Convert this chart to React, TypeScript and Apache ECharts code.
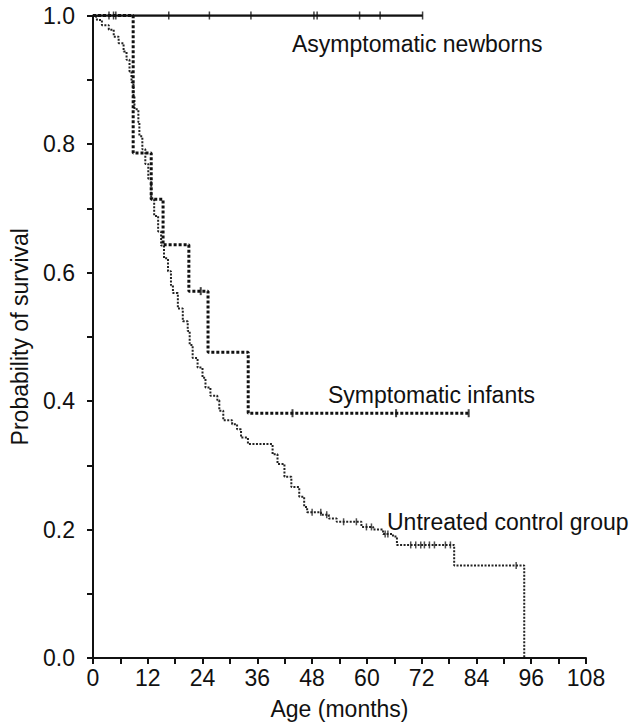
import React, { useEffect, useRef } from "react";
import * as echarts from "echarts";

// ---- data ----
const xTickStep = 12;
const xMax = 108;
const yTickStep = 0.2;

const seriesNames = ["Asymptomatic newborns", "Symptomatic infants", "Untreated control group"];

// Asymptomatic newborns (Kaplan-Meier steps)
const asymTimes = [0, 72.2];
const asymSurv = [1, 1];
const asymCensor = [3.5, 4.5, 5.0, 16.6, 25.5, 34.6, 48.4, 49.1, 58.4, 62.9, 72.2];

// Symptomatic infants
const symTimes = [0, 8.8, 12.75, 15.35, 21.0, 25.2, 34.0, 82.3];
const symSurv = [1, 0.786, 0.714, 0.643, 0.571, 0.476, 0.381, 0.381];
const symCensor = [23.6, 43.7, 66.4, 82.3];

// Untreated control group
const ctlTimes = [
  0, 0.43, 0.86, 1.95, 3.46, 4.54, 5.62, 6.7, 7.35, 8.0, 8.43, 8.86, 9.08, 9.94,
  10.16, 10.81, 11.46, 12.11, 12.75, 13.4, 14.27, 14.92, 15.56, 16.43, 17.08,
  17.51, 18.59, 19.67, 20.75, 21.18, 21.83, 22.91, 23.99, 24.64, 25.72, 27.24,
  27.67, 28.54, 30.48, 31.56, 32.43, 33.94, 39.34, 40.42, 41.94, 43.45, 45.18,
  46.26, 46.91, 49.94, 51.66, 53.39, 58.8, 61.39, 63.55, 65.71, 66.58, 79.12,
  94.47,
];
const ctlSurv = [
  1.0, 0.998, 0.993, 0.985, 0.978, 0.967, 0.957, 0.944, 0.931, 0.913, 0.896,
  0.874, 0.854, 0.834, 0.812, 0.792, 0.769, 0.746, 0.715, 0.688, 0.664, 0.642,
  0.622, 0.602, 0.58, 0.568, 0.544, 0.524, 0.509, 0.487, 0.467, 0.452, 0.436,
  0.421, 0.408, 0.401, 0.385, 0.37, 0.364, 0.356, 0.343, 0.333, 0.317, 0.302,
  0.282, 0.266, 0.251, 0.235, 0.227, 0.223, 0.217, 0.212, 0.204, 0.2, 0.193,
  0.189, 0.176, 0.144, 0.0,
];
const ctlCensor = [
  48.0, 49.9, 51.2, 54.9, 57.7, 59.9, 61.0, 64.0, 64.6, 69.6, 70.7, 71.8, 72.6,
  73.7, 74.8, 77.2, 78.3, 92.7,
];

// ---- helpers ----
const pairs = (t: number[], s: number[]) => t.map((v, i) => [v, s[i]]);
const survAt = (t: number[], s: number[], x: number) => {
  let v = s[0];
  for (let i = 0; i < t.length; i++) if (t[i] <= x) v = s[i];
  return v;
};
const censorPts = (t: number[], s: number[], c: number[]) =>
  c.map((x) => [x, survAt(t, s, x)]);

const FONT = '"Liberation Sans", Arial, sans-serif';
const FS = 23;

export default function App() {
  const ref = useRef<HTMLDivElement>(null);
  useEffect(() => {
    document.body.style.margin = "0";
    const chart = echarts.init(ref.current!, null, { renderer: "svg" });
    const tickMark = "rect";
    const tickStyle = { color: "#111", width: 2 };
    chart.setOption({
      animation: false,
      backgroundColor: "#fff",
      grid: { left: 86, right: 46, top: 15.5, bottom: 63 },
      xAxis: {
        type: "value",
        min: 0,
        max: xMax,
        interval: xTickStep,
        name: "Age (months)",
        nameLocation: "middle",
        nameGap: 39,
        nameTextStyle: { fontFamily: FONT, fontSize: FS, color: "#111" },
        axisLine: { lineStyle: { color: "#111", width: 2 } },
        axisTick: { show: true, length: 6, lineStyle: tickStyle },
        minorTick: { show: true, splitNumber: 2, length: 6, lineStyle: tickStyle },
        splitLine: { show: false },
        axisLabel: { fontFamily: FONT, fontSize: FS, color: "#111", margin: 8 },
      },
      yAxis: {
        type: "value",
        min: 0,
        max: 1,
        interval: yTickStep,
        name: "Probability of survival",
        nameLocation: "middle",
        nameGap: 62,
        nameTextStyle: { fontFamily: FONT, fontSize: FS, color: "#111" },
        axisLine: { show: true, lineStyle: { color: "#111", width: 2 } },
        axisTick: { show: true, length: 6, lineStyle: tickStyle },
        minorTick: { show: true, splitNumber: 2, length: 6, lineStyle: tickStyle },
        splitLine: { show: false },
        axisLabel: {
          fontFamily: FONT,
          fontSize: FS,
          color: "#111",
          margin: 18,
          formatter: (v: number) => v.toFixed(1),
        },
      },
      series: [
        {
          name: seriesNames[2],
          type: "line",
          step: "end",
          data: pairs(ctlTimes, ctlSurv),
          showSymbol: false,
          lineStyle: { color: "#222", width: 2, type: [2, 1.5] },
          z: 2,
        },
        {
          name: seriesNames[2] + " censored",
          type: "scatter",
          data: censorPts(ctlTimes, ctlSurv, ctlCensor),
          symbol: tickMark,
          symbolSize: [1.5, 7],
          itemStyle: { color: "#222" },
          z: 2,
        },
        {
          name: seriesNames[1],
          type: "line",
          step: "end",
          data: pairs(symTimes, symSurv),
          showSymbol: false,
          lineStyle: { color: "#111", width: 3, type: [3, 2] },
          z: 3,
        },
        {
          name: seriesNames[1] + " censored",
          type: "scatter",
          data: censorPts(symTimes, symSurv, symCensor),
          symbol: tickMark,
          symbolSize: [2, 8],
          itemStyle: { color: "#111" },
          z: 3,
        },
        {
          name: seriesNames[0],
          type: "line",
          data: pairs(asymTimes, asymSurv),
          showSymbol: false,
          lineStyle: { color: "#111", width: 2.5 },
          z: 4,
        },
        {
          name: seriesNames[0] + " censored",
          type: "scatter",
          data: censorPts(asymTimes, asymSurv, asymCensor),
          symbol: tickMark,
          symbolSize: [1.5, 8],
          itemStyle: { color: "#111" },
          z: 4,
        },
      ],
      graphic: [
        {
          type: "text",
          x: 292,
          y: 44,
          style: { text: seriesNames[0], font: `${FS}px ${FONT}`, fill: "#111", verticalAlign: "middle" },
        },
        {
          type: "text",
          x: 328,
          y: 395,
          style: { text: seriesNames[1], font: `${FS}px ${FONT}`, fill: "#111", verticalAlign: "middle" },
        },
        {
          type: "text",
          x: 387,
          y: 522,
          style: { text: seriesNames[2], font: `${FS}px ${FONT}`, fill: "#111", verticalAlign: "middle" },
        },
      ],
    });
    return () => chart.dispose();
  }, []);
  return <div ref={ref} style={{ width: 632, height: 725 }} />;
}
